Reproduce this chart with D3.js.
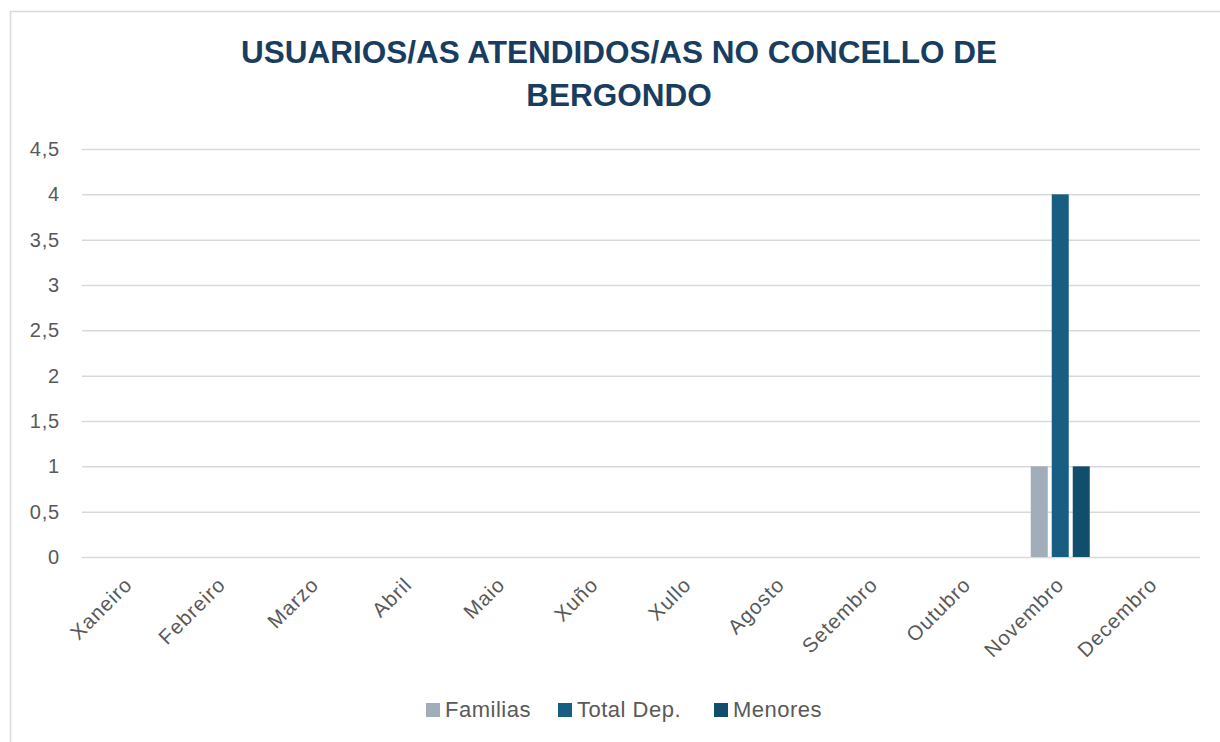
<!DOCTYPE html>
<html>
  <head>
    <meta charset="utf-8">
    <title>Usuarios/as atendidos/as</title>
    <script src="https://cdn.jsdelivr.net/npm/d3@7"></script>
    <style>
      body { margin: 0; background: #fff; }
      text { font-family: "Liberation Sans", Arial, sans-serif; }
    </style>
  </head>
  <body>
    <svg width="1220" height="742" id="mainsvg"></svg>
    <script>
      const months = ['Xaneiro', 'Febreiro', 'Marzo', 'Abril', 'Maio', 'Xuño', 'Xullo',
        'Agosto', 'Setembro', 'Outubro', 'Novembro', 'Decembro'];
      const seriesNames = ['Familias', 'Total Dep.', 'Menores'];
      const familias = [0, 0, 0, 0, 0, 0, 0, 0, 0, 0, 1, 0];
      const totalDep = [0, 0, 0, 0, 0, 0, 0, 0, 0, 0, 4, 0];
      const menores = [0, 0, 0, 0, 0, 0, 0, 0, 0, 0, 1, 0];
      const yTicks = [0, 0.5, 1, 1.5, 2, 2.5, 3, 3.5, 4, 4.5];
      const colors = ['#a1adb8', '#175e82', '#104e6b'];
      const titleLines = ['USUARIOS/AS ATENDIDOS/AS NO CONCELLO DE', 'BERGONDO'];

      const svg = d3.select('#mainsvg');
      const width = +svg.attr('width');
      const height = +svg.attr('height');
      const margin = {top: 149, left: 82};
      const innerWidth = 1200 - margin.left;
      const innerHeight = 557 - margin.top;

      // chart frame: only top and left edges are visible in the screenshot
      svg.append('path')
        .attr('d', `M${width},11.5 H10.5 V${height}`)
        .attr('fill', 'none')
        .attr('stroke', '#d9d9d9')
        .attr('stroke-width', 1.5);

      svg.append('g').selectAll('text')
        .data(titleLines)
        .join('text')
        .attr('x', 619)
        .attr('y', (d, i) => 63 + i * 43)
        .attr('text-anchor', 'middle')
        .attr('font-size', 31.5)
        .attr('font-weight', 'bold')
        .attr('fill', '#193d61')
        .text(d => d);

      const g = svg.append('g')
        .attr('transform', `translate(${margin.left}, ${margin.top})`);

      const xScale = d3.scaleBand().domain(months).range([0, innerWidth]);
      const yScale = d3.scaleLinear().domain([0, 4.5]).range([innerHeight, 0]);
      const bw = xScale.bandwidth();
      const barW = 17, barGap = 4;
      const groupW = barW * 3 + barGap * 2;
      const xInner = d3.scaleBand().domain(seriesNames)
        .range([(bw - groupW) / 2, (bw + groupW) / 2])
        .paddingInner(barGap / (barW + barGap));

      const yAxis = d3.axisLeft(yScale)
        .tickValues(yTicks)
        .tickSize(-innerWidth)
        .tickPadding(22)
        .tickFormat(d => String(d).replace('.', ','));
      const yAxisGroup = g.append('g').call(yAxis);
      yAxisGroup.select('.domain').remove();
      yAxisGroup.selectAll('.tick line').attr('stroke', '#d9d9d9').attr('stroke-width', 1.5);
      yAxisGroup.selectAll('.tick text')
        .attr('fill', '#595959')
        .attr('font-size', 20)
        .style('letter-spacing', '0.8px')
        .style('font-family', '"Liberation Sans", Arial, sans-serif');

      const xAxis = d3.axisBottom(xScale).tickSize(0).tickPadding(0);
      const xAxisGroup = g.append('g')
        .attr('transform', `translate(0, ${innerHeight})`)
        .call(xAxis);
      xAxisGroup.select('.domain').remove();
      xAxisGroup.selectAll('.tick text')
        .attr('fill', '#595959')
        .attr('font-size', 20.5)
        .style('letter-spacing', '1px')
        .style('font-family', '"Liberation Sans", Arial, sans-serif')
        .attr('text-anchor', 'end')
        .attr('dy', 0)
        .attr('transform', 'translate(5, 29) rotate(-45)');

      const seriesData = [familias, totalDep, menores];
      const rows = months.map((m, i) => ({month: m, values: seriesNames.map((s, k) => ({key: s, value: seriesData[k][i], color: colors[k]}))}));

      g.append('g').selectAll('g')
        .data(rows)
        .join('g')
        .attr('transform', d => `translate(${xScale(d.month)}, 0)`)
        .selectAll('rect')
        .data(d => d.values.filter(v => v.value > 0))
        .join('rect')
        .attr('x', d => xInner(d.key))
        .attr('width', xInner.bandwidth())
        .attr('y', d => yScale(d.value))
        .attr('height', d => innerHeight - yScale(d.value))
        .attr('fill', d => d.color);

      // legend
      const legendX = [426, 558, 714];
      const legend = svg.append('g').selectAll('g')
        .data(seriesNames)
        .join('g')
        .attr('transform', (d, i) => `translate(${legendX[i]}, 703)`);
      legend.append('rect')
        .attr('width', 14).attr('height', 14)
        .attr('fill', (d, i) => colors[i]);
      legend.append('text')
        .attr('x', 19).attr('y', 14)
        .attr('font-size', 22)
        .style('letter-spacing', '0.5px')
        .attr('fill', '#595959')
        .text(d => d);
    </script>
  </body>
</html>
